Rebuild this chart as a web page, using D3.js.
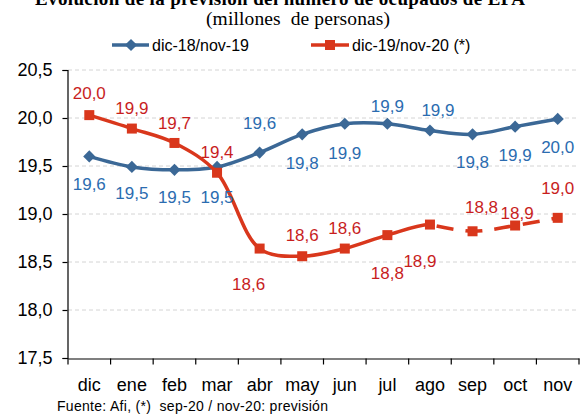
<!DOCTYPE html>
<html>
<head>
<meta charset="utf-8">
<script src="https://cdn.jsdelivr.net/npm/d3@7"></script>
<style>
  body { margin: 0; background: #fff; }
  svg { display: block; }
</style>
</head>
<body>
<div id="chart"></div>
<script>
// Data
const months = ["dic", "ene", "feb", "mar", "abr", "may", "jun", "jul", "ago", "sep", "oct", "nov"];
const serie1 = [19.60, 19.49, 19.46, 19.49, 19.64, 19.83, 19.94, 19.94, 19.87, 19.83, 19.91, 19.99];
const serie2 = [20.03, 19.89, 19.74, 19.43, 18.64, 18.56, 18.64, 18.78, 18.89, 18.82, 18.88, 18.96];
const yTicks = [17.5, 18.0, 18.5, 19.0, 19.5, 20.0, 20.5];
const forecastStart = "ago"; // dashed from here on

// label placement (offset from the point, px)
const lab1 = [[0, 27], [0, 26], [0, 27], [0, 30], [0, -30], [0, 29], [0, 29], [0, -18], [8, -21], [0, 28], [0, 28], [0, 28]];
const lab2 = [[0, -22], [0, -21], [0, -20], [0, -21], [-11, 35], [0, -21], [0, -21], [0, 38], [-10, 36], [9, -24], [2, -13], [0, -30]];

const W = 580, H = 415;
const fmt = v => d3.format(".1f")(v).replace(".", ",");

const svg = d3.select("#chart").append("svg")
  .attr("width", W)
  .attr("height", H);

const x = d3.scaleBand().domain(months).range([68, 579]);
const y = d3.scaleLinear().domain([17.5, 20.5]).range([358, 70]);
const cx = m => x(m) + x.bandwidth() / 2;

// Title (cut off at the top in the reference)
svg.append("text")
  .attr("x", 280)
  .attr("y", 5)
  .attr("text-anchor", "middle")
  .attr("textLength", 490)
  .style("font-family", "'Liberation Serif', 'Times New Roman', serif")
  .style("font-weight", "bold")
  .style("font-size", "19px")
  .text("Evolución de la previsión del número de ocupados de EPA");

svg.append("text")
  .attr("x", 298)
  .attr("y", 25)
  .attr("text-anchor", "middle")
  .attr("textLength", 184)
  .style("font-family", "'Liberation Serif', 'Times New Roman', serif")
  .style("font-size", "19.5px")
  .attr("xml:space", "preserve")
  .text("(millones  de personas)");

// Gridlines
svg.append("g")
  .selectAll("line")
  .data(yTicks.slice(1))
  .join("line")
  .attr("x1", 68)
  .attr("x2", 579)
  .attr("y1", d => y(d))
  .attr("y2", d => y(d))
  .attr("stroke", "#d4d4d4")
  .attr("stroke-width", 1)
  .attr("stroke-dasharray", "4,3");

// Y axis
const yAxis = svg.append("g")
  .attr("transform", "translate(67.5,0)")
  .call(d3.axisLeft(y).tickValues(yTicks).tickFormat(fmt).tickSize(5).tickPadding(10));
yAxis.selectAll("text")
  .style("font-family", "Arial, 'Liberation Sans', sans-serif")
  .style("font-size", "18px")
  .attr("fill", "#000");
yAxis.selectAll("line, path").attr("stroke", "#000").attr("stroke-width", 1.2);

// X axis
const xAxis = svg.append("g")
  .attr("transform", "translate(0,358.5)")
  .call(d3.axisBottom(x).tickSize(0).tickPadding(20));
xAxis.selectAll("text")
  .style("font-family", "Arial, 'Liberation Sans', sans-serif")
  .style("font-size", "18px")
  .attr("fill", "#000");
xAxis.select(".domain").attr("stroke", "#000").attr("stroke-width", 1.2);
// ticks between categories
xAxis.selectAll(".sep")
  .data(months.concat(["end"]))
  .join("line")
  .attr("class", "sep")
  .attr("x1", (d, i) => 68 + i * x.bandwidth())
  .attr("x2", (d, i) => 68 + i * x.bandwidth())
  .attr("y1", 0)
  .attr("y2", 6)
  .attr("stroke", "#000")
  .attr("stroke-width", 1.2);

const blue = "#3b6896", blueText = "#2b6cb0";
const red = "#d9371c", redText = "#c81e1e";

const line = d3.line()
  .x(d => cx(d.m))
  .y(d => y(d.v))
  .curve(d3.curveCatmullRom.alpha(0.5));

const d1 = months.map((m, i) => ({ m: m, v: serie1[i] }));
const d2 = months.map((m, i) => ({ m: m, v: serie2[i] }));

// Blue series
svg.append("path")
  .datum(d1)
  .attr("fill", "none")
  .attr("stroke", blue)
  .attr("stroke-width", 3.5)
  .attr("d", line);

svg.append("g")
  .selectAll("path")
  .data(d1)
  .join("path")
  .attr("transform", d => `translate(${cx(d.m)},${y(d.v)})`)
  .attr("d", d3.symbol(d3.symbolDiamond2, 95))
  .attr("fill", blue);

// Red series: solid part then dashed forecast
const splitX = cx(forecastStart);
const defs = svg.append("defs");
defs.append("clipPath").attr("id", "clipSolid")
  .append("rect").attr("x", 0).attr("y", 0).attr("width", splitX).attr("height", H);

svg.append("path")
  .datum(d2)
  .attr("fill", "none")
  .attr("stroke", red)
  .attr("stroke-width", 3.5)
  .attr("clip-path", "url(#clipSolid)")
  .attr("d", line);

svg.append("path")
  .datum(d2.filter(d => months.indexOf(d.m) >= months.indexOf(forecastStart)))
  .attr("fill", "none")
  .attr("stroke", red)
  .attr("stroke-width", 3.5)
  .attr("stroke-dasharray", "17,12")
  .attr("stroke-dashoffset", -7)
  .attr("d", line);

svg.append("g")
  .selectAll("rect")
  .data(d2)
  .join("rect")
  .attr("x", d => cx(d.m) - 5)
  .attr("y", d => y(d.v) - 5)
  .attr("width", 10)
  .attr("height", 10)
  .attr("fill", red);

// Data labels
function labels(data, pos, color) {
  svg.append("g")
    .selectAll("text")
    .data(data)
    .join("text")
    .attr("x", (d, i) => cx(d.m) + pos[i][0])
    .attr("y", (d, i) => y(d.v) + pos[i][1])
    .attr("dy", "0.36em")
    .attr("text-anchor", "middle")
    .style("font-family", "Arial, 'Liberation Sans', sans-serif")
    .style("font-size", "17px")
    .attr("fill", color)
    .text(d => fmt(d.v));
}
labels(d1, lab1, blueText);
labels(d2, lab2, redText);

// Legend
const legend = svg.append("g").attr("transform", "translate(0,45)");
legend.append("line")
  .attr("x1", 112).attr("x2", 149)
  .attr("stroke", blue).attr("stroke-width", 3.5);
legend.append("path")
  .attr("transform", "translate(131,0)")
  .attr("d", d3.symbol(d3.symbolDiamond2, 95))
  .attr("fill", blue);
legend.append("text")
  .attr("x", 152).attr("dy", "0.36em")
  .style("font-family", "Arial, 'Liberation Sans', sans-serif")
  .style("font-size", "16px")
  .text("dic-18/nov-19");
legend.append("line")
  .attr("x1", 311).attr("x2", 349)
  .attr("stroke", red).attr("stroke-width", 3.5);
legend.append("rect")
  .attr("x", 325).attr("y", -5).attr("width", 10).attr("height", 10)
  .attr("fill", red);
legend.append("text")
  .attr("x", 352).attr("dy", "0.36em")
  .style("font-family", "Arial, 'Liberation Sans', sans-serif")
  .style("font-size", "16px")
  .text("dic-19/nov-20 (*)");

// Source note
svg.append("text")
  .attr("x", 57)
  .attr("y", 411)
  .attr("xml:space", "preserve")
  .attr("textLength", 271)
  .style("font-family", "Arial, 'Liberation Sans', sans-serif")
  .style("font-size", "14px")
  .text("Fuente: Afi, (*)  sep-20 / nov-20: previsión");
</script>
</body>
</html>
